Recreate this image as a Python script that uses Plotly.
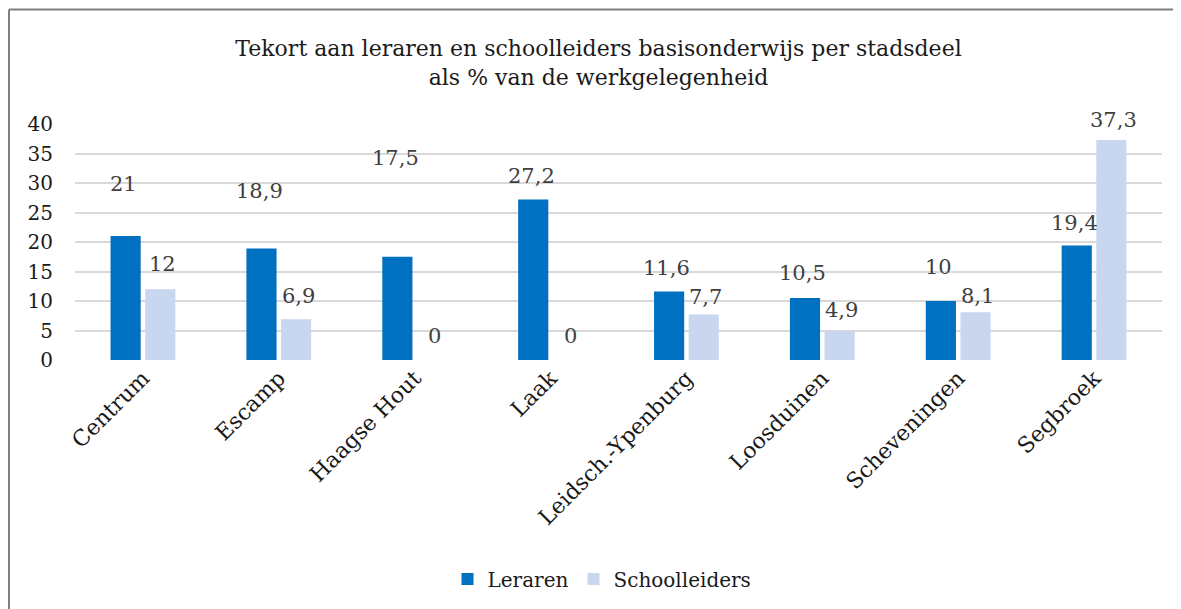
import plotly.graph_objects as go

categories = ["Centrum", "Escamp", "Haagse Hout", "Laak", "Leidsch.-Ypenburg",
              "Loosduinen", "Scheveningen", "Segbroek"]
leraren = [21, 18.9, 17.5, 27.2, 11.6, 10.5, 10, 19.4]
schoolleiders = [12, 6.9, 0, 0, 7.7, 4.9, 8.1, 37.3]
y_ticks = [0, 5, 10, 15, 20, 25, 30, 35, 40]

# label offsets (px above bar top) as placed in the original
lbl_shift_l = [52, 57, 99, 24, 24, 25, 34, 23]
lbl_shift_s = [25, 23, 24, 24, 18, 21, 16, 20]

# page is rendered with an 8px body margin; work in page coords and convert
OFF = 8
PAGE_W, PAGE_H = 1181, 609
W, H = PAGE_W - OFF, PAGE_H - OFF
PLOT_L, PLOT_R, PLOT_T, PLOT_B = 75, 1162, 124, 361  # page coords
ML, MR, MT, MB = PLOT_L - OFF, W - (PLOT_R - OFF), PLOT_T - OFF, H - (PLOT_B - OFF)
FONT = "Georgia, 'DejaVu Serif', serif"

DARK = "#0070C0"
LIGHT = "#C9D6F0"

pw = W - ML - MR
ph = H - MT - MB
def px2x(px):
    return (px - OFF - ML) / pw
def py2y(py):
    return (H - MB - (py - OFF)) / ph

fig = go.Figure()
fig.add_trace(go.Bar(x=categories, y=leraren, name="Leraren",
                     marker=dict(color=DARK, line=dict(width=0))))
fig.add_trace(go.Bar(x=categories, y=schoolleiders, name="Schoolleiders",
                     marker=dict(color=LIGHT, line=dict(width=0))))

def fmt(v):
    return ("%g" % v).replace(".", ",")

anns = []
for i, c in enumerate(categories):
    anns.append(dict(x=c, y=leraren[i], xref="x", yref="y", text=fmt(leraren[i]),
                     showarrow=False, xshift=-19.5, yshift=lbl_shift_l[i],
                     yanchor="middle", font=dict(family=FONT, size=21, color="#404040")))
    anns.append(dict(x=c, y=schoolleiders[i], xref="x", yref="y", text=fmt(schoolleiders[i]),
                     showarrow=False, xshift=19.5, yshift=lbl_shift_s[i],
                     yanchor="middle", font=dict(family=FONT, size=21, color="#404040")))

shapes = [
    dict(type="line", xref="paper", yref="paper", x0=px2x(OFF + 1), x1=px2x(OFF + 1),
         y0=py2y(OFF + 1), y1=py2y(PAGE_H + 5), line=dict(color="#7f7f7f", width=2)),
    dict(type="line", xref="paper", yref="paper", x0=px2x(OFF + 1), x1=px2x(PAGE_W + 5),
         y0=py2y(OFF + 1), y1=py2y(OFF + 1), line=dict(color="#7f7f7f", width=2)),
]

fig.update_layout(
    width=W, height=H,
    margin=dict(l=ML, r=MR, t=MT, b=MB, pad=0),
    paper_bgcolor="white", plot_bgcolor="white",
    barmode="group", bargap=0.49, bargroupgap=0.13,
    title=dict(text="Tekort aan leraren en schoolleiders basisonderwijs per stadsdeel<br>als % van de werkgelegenheid",
               x=px2x(598.5), xref="paper", xanchor="center", y=1 - (56 - OFF) / H, yanchor="middle",
               font=dict(family=FONT, size=22, color="#1a1a1a")),
    font=dict(family=FONT, color="#1a1a1a"),
    xaxis=dict(tickangle=-45, tickfont=dict(family=FONT, size=22, color="#1a1a1a"),
               showgrid=False, showline=False, ticks="", automargin=False),
    yaxis=dict(range=[0, 40], tickvals=y_ticks, ticktext=[str(t) for t in y_ticks],
               tickfont=dict(family=FONT, size=20, color="#1a1a1a"),
               showgrid=True, gridcolor="#d9d9d9", gridwidth=2, zeroline=False,
               showline=False, ticks="outside", ticklen=17, tickcolor="rgba(0,0,0,0)",
               automargin=False),
    legend=dict(orientation="h", x=px2x(602), xanchor="center", y=py2y(579), yanchor="middle",
                font=dict(family=FONT, size=20, color="#1a1a1a"),
                itemwidth=30, traceorder="normal"),
    annotations=anns,
    shapes=shapes,
)

fig.write_html("out.html")
